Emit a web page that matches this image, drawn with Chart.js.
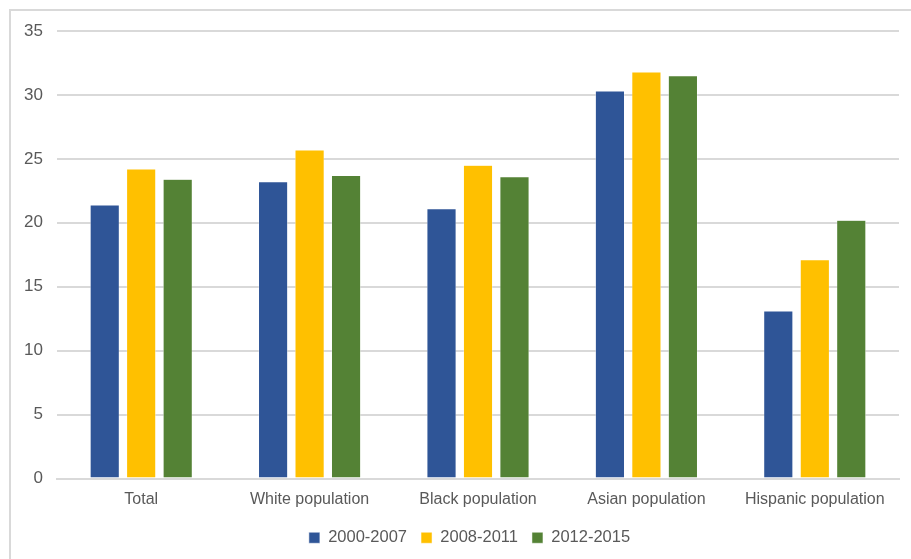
<!DOCTYPE html>
<html>
<head>
<meta charset="utf-8">
<script src="https://cdn.jsdelivr.net/npm/chart.js@4/dist/chart.umd.min.js"></script>
<style>
  html, body { margin: 0; padding: 0; background: #fff; }
  #wrap { width: 911px; height: 559px; position: relative; }
</style>
</head>
<body>
<div id="wrap"><canvas id="chart" width="911" height="559"></canvas></div>
<script>
const categories = ["Total", "White population", "Black population", "Asian population", "Hispanic population"];
const periods    = ["2000-2007", "2008-2011", "2012-2015"];
const v2000_2007 = [21.4, 23.2, 21.1, 30.3, 13.1];
const v2008_2011 = [24.2, 25.7, 24.5, 31.8, 17.1];
const v2012_2015 = [23.4, 23.7, 23.6, 31.5, 20.2];
const yTicks     = [0, 5, 10, 15, 20, 25, 30, 35];
const colors     = ["#2f5597", "#ffc000", "#548235"];

const FONT = "'Liberation Sans', Arial, sans-serif";
const GREY = "#595959";

// white page + thin grey frame round the chart; legend nudged right like the original
const frame = {
  id: "frame",
  afterLayout(c) {
    c.legend.left += 14;
    c.legend.right += 14;
  },
  beforeDraw(c) {
    const g = c.ctx;
    g.save();
    g.fillStyle = "#fff";
    g.fillRect(0, 0, c.width, c.height);
    g.strokeStyle = "#d9d9d9";
    g.lineWidth = 2;
    g.strokeRect(10, 10, c.width + 20, c.height + 20);
    g.restore();
  }
};

new Chart(document.getElementById("chart"), {
  type: "bar",
  plugins: [frame],
  data: {
    labels: categories,
    datasets: [v2000_2007, v2008_2011, v2012_2015].map((d, i) => ({
      label: periods[i],
      data: d,
      backgroundColor: colors[i],
      borderColor: "#ffffff",
      borderWidth: 0.5,
      barPercentage: 0.8,
      categoryPercentage: 0.65
    }))
  },
  options: {
    responsive: false,
    animation: false,
    layout: { padding: { left: 12, right: 12, top: 31, bottom: 3 } },
    plugins: {
      tooltip: { enabled: false },
      legend: {
        position: "bottom",
        labels: {
          boxWidth: 11, boxHeight: 11, padding: 14,
          color: GREY, font: { family: FONT, size: 16.5 }
        }
      }
    },
    scales: {
      x: {
        grid: { display: false },
        border: { color: "#d9d9d9", width: 2 },
        ticks: { color: GREY, font: { family: FONT, size: 16 }, padding: 3, maxRotation: 0 },
        afterFit: s => { s.height = 37; }
      },
      y: {
        min: 0, max: 35,
        afterBuildTicks: s => { s.ticks = yTicks.map(v => ({ value: v })); },
        grid: { color: "#d9d9d9", lineWidth: 2, drawTicks: false },
        border: { display: false },
        ticks: { color: GREY, font: { family: FONT, size: 17 }, padding: 14 },
        afterFit: s => { s.width = 45; }
      }
    }
  }
});
</script>
</body>
</html>
